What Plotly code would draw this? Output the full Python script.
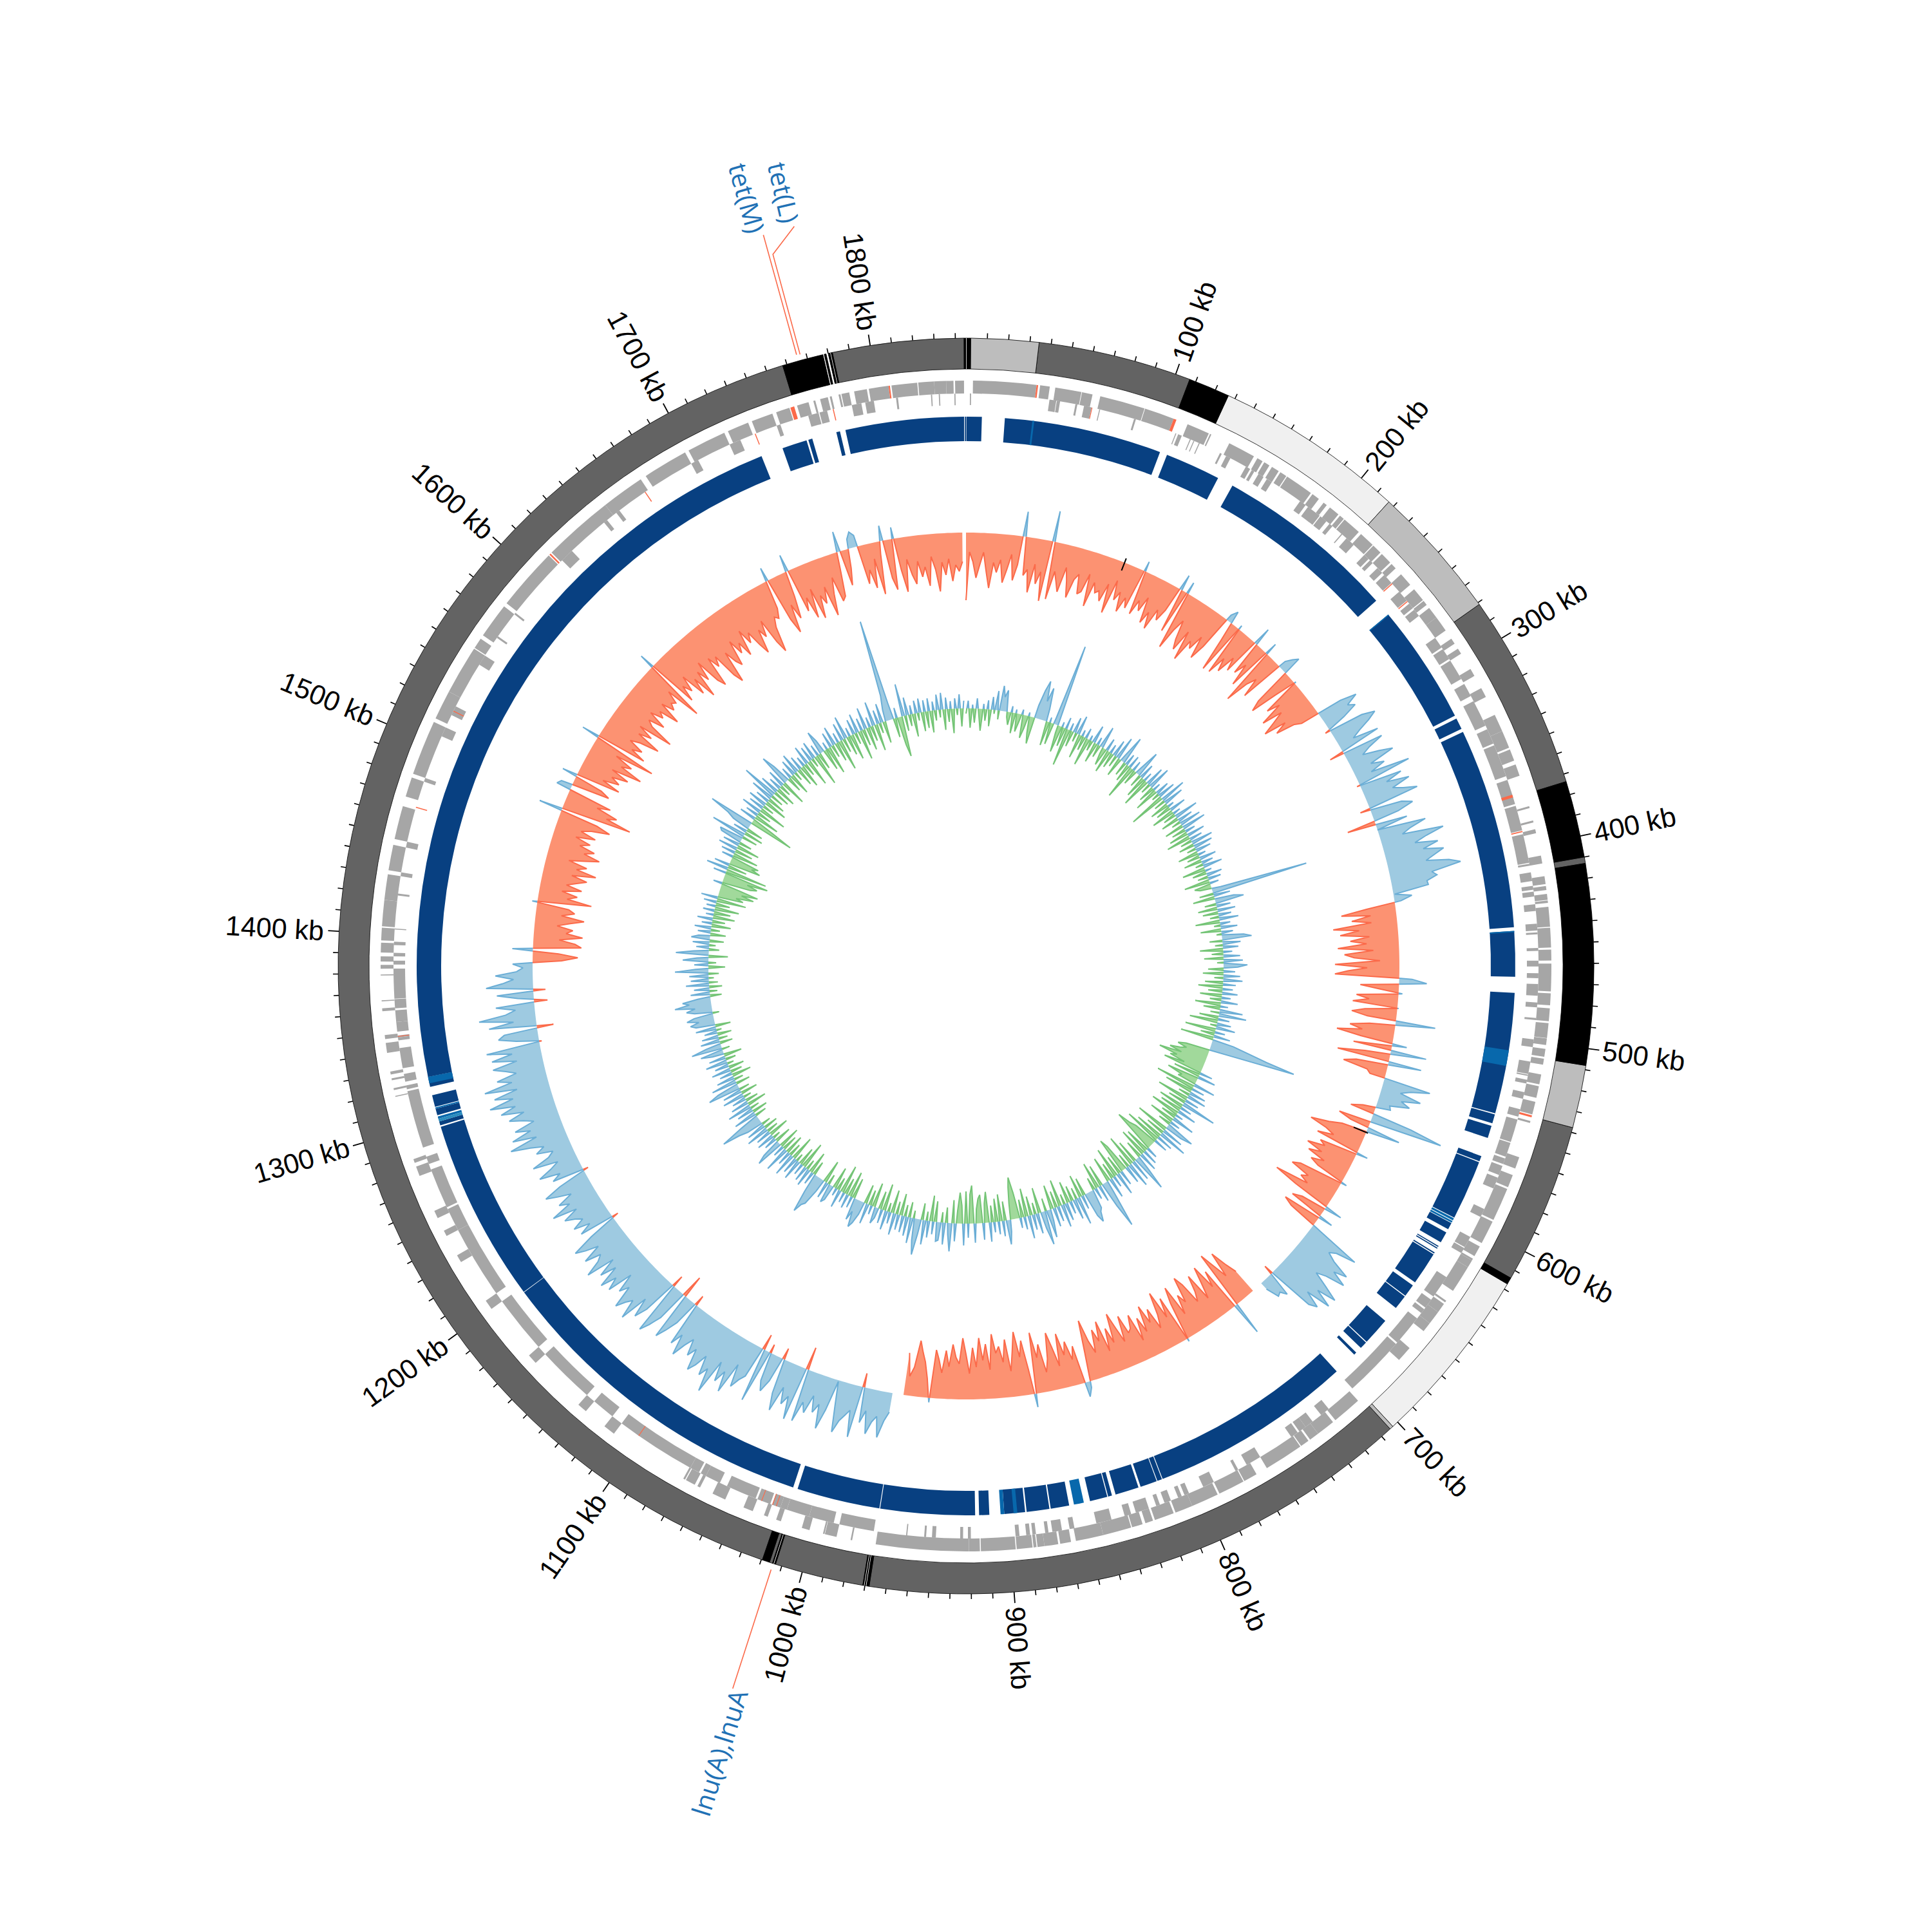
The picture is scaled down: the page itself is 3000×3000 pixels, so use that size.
import math
import plotly.graph_objects as go

GENOME_KB = 1845.0
tick_major_kb = list(range(100, 1801, 100))
tick_minor_kb = [k for k in range(10, 1841, 10) if k % 100]

# outer band: start kb, end kb, level
band_start = [0, 2.2, 34.3, 107, 126.6, 217, 281, 373.7, 410, 413, 508, 537.7, 614, 617.2, 703, 704.7, 968, 971, 1013, 1014.5, 1016, 1019.5, 1758, 1778, 1780, 1782, 1844.1]
band_end = [2.2, 34.3, 107, 126.6, 217, 281, 373.7, 410, 413, 508, 537.7, 614, 617.2, 703, 704.7, 968, 971, 1013, 1014.5, 1016, 1019.5, 1758, 1777.5, 1779, 1782, 1844.1, 1845]
band_level = [3, 2, 1, 3, 0, 2, 1, 3, 1, 3, 2, 1, 3, 0, 2, 1, 3, 1, 3, 1, 3, 1, 3, 3, 3, 1, 3]
band_hairlines = [0.0, 969.3, 970.2, 1013.7, 1777.7, 1779.5, 1781]

# contig track
contig_dark = [(0.2, 8.5), (20.8, 106), (110, 140), (148.7, 247.6), (257.4, 322.3), (324, 330.2), (332, 440.5), (442.5, 467), (475.6, 541), (541.6, 546.5), (548, 554.7), (565, 568), (568.5, 601), (604.3, 608), (610, 616), (618.3, 618.9), (619.4, 620), (622.3, 623), (623.5, 641.5), (643.5, 650.3), (650.8, 658.6), (667.5, 682.5), (683, 687), (690.5, 692), (705, 815), (815.4, 818), (818.4, 827.5), (828.7, 841.5), (843.5, 845.6), (846.1, 855.6), (867, 877), (877.7, 890), (890.8, 902), (910, 915.5), (917.6, 968.6), (969, 1014), (1016.5, 1197), (1197.3, 1296.5), (1297.3, 1299.5), (1303, 1306.5), (1307.6, 1314), (1318.6, 1324), (1324, 1733), (1745, 1758.5), (1759.5, 1761.7), (1775, 1777), (1780, 1844), (1844.4, 1845)]
contig_mid = [(35.6, 36.6), (257.4, 258), (442.5, 443.2), (506.5, 515), (601.4, 602.6), (603, 604), (859, 864.4), (895, 897), (902, 904), (1301, 1302.2), (1306.5, 1307.2), (1320.5, 1324)]
contig_light = [(1299.5, 1301)]

gene_outer = [(3.5,35.5),(37.3,42.2),(45,58.3),(58.6,64),(68,91),(91.3,106.5),(114,125.6),(126.3,127),(137,151),(153,156),(157,160),(161.5,165.5),(166.5,170),(170.5,185),(186,190),(193,195),(197,202.5),(203.5,206),(206.5,216),(217.5,225.5),(226,231),(232,238),(239,242),(246,253),(256,263),(263.5,266),(268,274),(274,282),(287,290),(293,296),(305,309),(316,321),(331,340),(340,349),(350,356),(358,364),(380,381),(387.5,388.5),(392,394),(405.5,409.5),(416,420),(421,423),(425,428),(428.3,429.5),(431.5,441.5),(442,452),(453,458.5),(460,474),(475,481),(482.5,489),(490,497.5),(497.7,501),(503,507),(508,511),(516,521),(522,528),(530,536.5),(540,541),(559,565),(568.5,575),(576,593),(594,606),(608,613.5),(615,616),(616,620),(620,634),(640,641),(642,647),(647,654),(654,659),(670,678),(707,722),(723.5,733),(733,738),(739,743.5),(744,764),(770,777),(777.5,791),(792,806),(806,815),(816,826),(827,831),(832.5,838),(838.5,853),(853,867),(869.5,875),(876,883),(883,886.5),(887,888.5),(889,897),(897.5,915),(915.5,921),(921,968),(980,980.8),(988,994),(994.2,995),(1002,1006),(1017,1019.5),(1024,1026),(1032,1037),(1047,1054),(1061,1062.5),(1064,1069),(1069.5,1070.5),(1112,1118),(1130,1135),(1165,1170),(1200,1205),(1228,1232),(1243,1246),(1253,1257),(1276,1281),(1283,1285),(1317.5,1318),(1321,1322),(1326,1327),(1329,1330.5),(1340,1345),(1347,1349),(1361,1362.5),(1366,1366.5),(1379,1379.5),(1382.4,1384.3),(1386,1388.6),(1390.5,1395.5),(1396.6,1403),(1403.7,1417),(1417,1430),(1432,1445),(1448,1465),(1470,1480),(1482,1510),(1512,1527),(1527,1552),(1552.5,1558),(1560,1578),(1580,1612),(1614,1650),(1650,1672),(1675,1698),(1700,1720),(1722,1733),(1735,1746),(1748,1755),(1759,1765),(1767.5,1768.5),(1771,1775),(1776,1777),(1780.5,1781.5),(1782,1786),(1788.5,1795),(1796,1806),(1807.5,1820.5),(1821,1829),(1829,1835),(1835,1838.7),(1839.5,1844)]
gene_inner = [(2,2.6),(43,46.5),(46.8,48.5),(56.5,57.5),(61,65),(69,69.5),(87.5,88.5),(110,110.5),(111.5,113.5),(118,118.5),(120,120.5),(123,123.5),(135,136),(138.5,141),(150,152.5),(153.5,155),(157.5,160.5),(162.5,165.5),(183,186.5),(188,195.5),(196,200),(202,204),(210,210.6),(213.5,218.5),(226,229),(230,232),(235.5,239),(240.5,246),(252,258),(260,263),(264,268),(282,288),(289,295),(296,307),(310,317),(320,334),(336,344),(345,362),(364,377),(378,391),(393,408),(408.5,409.5),(413,417.5),(420,422),(423,425.5),(429.5,433),(439.5,443),(444,445),(452,453.5),(458.5,461.5),(465,467.5),(470.5,476.5),(480,482.5),(488,489),(499,503),(510.5,517),(517.3,518),(520,522),(526.5,530),(535.5,539.5),(541,553),(553.5,561),(562,565),(566,571),(572.5,578.5),(590,594.5),(606,612),(612.5,615.5),(630,642),(644,649),(650,652.5),(656,672),(673,705),(721,726),(731.5,736),(736,740),(741,745),(764,772),(777,778.5),(791,797),(805,807.5),(809,811),(815,818.5),(821,823),(827,834),(836.5,840),(847,855),(866.5,869),(873,878),(880,881.7),(886.5,888.3),(889.5,891.5),(895,897),(920,921.5),(924,925.5),(938,940),(943,944),(952.7,953.3),(970,988),(991,1004),(1004,1016),(1016,1019.5),(1019.5,1024),(1025,1032),(1033,1049),(1053,1061),(1061,1064),(1065,1070),(1070,1112),(1118,1130),(1135,1165),(1170,1200),(1205,1243),(1243,1255),(1256,1277),(1280,1284),(1289,1319),(1320,1322),(1324,1328),(1331,1341.5),(1345.5,1347),(1347,1348),(1350,1355),(1355,1361),(1362,1366.7),(1367,1382.4),(1384.5,1386.5),(1388.7,1390.5),(1394.5,1396.2),(1402.5,1403),(1420,1421),(1430,1432),(1445,1448),(1480,1482),(1505,1510),(1517,1522),(1546.5,1552),(1563,1564),(1578,1579),(1615,1622),(1644,1646),(1652,1654),(1698,1702),(1720,1726),(1746,1748),(1763,1768.5),(1769,1773),(1786,1791),(1793,1797.5),(1809,1810),(1827,1827.6),(1831,1831.6),(1839,1839.6)]
amr_outer = [(35.5,36.3),(106.5,108),(537,538),(1612.5,1613.3),(1755.5,1757.5),(1806,1806.7)]
amr_inner = [(65,65.4),(246.3,246.8),(258.3,258.8),(372,373.5),(391.3,391.9),(1021.5,1021.9),(1023.5,1023.9),(1029.5,1029.9),(1101,1101.4),(1347.3,1347.7),(1466,1466.5),(1519,1519.5),(1670,1670.5),(1734,1734.5),(1776,1776.5)]

# outer wiggle: one row per 100 kb, offsets from the ring's zero line
skew_rows = [
 [-105,-30,-45,-70,-50,-30,-60,-85,-45,-60,-40,-75,-55,-30,-70,-45,39,-60,-50,-85,-40,-70,-50,-95,48,-90,-45,-60,-75,-35,-55,-80,-50,-40,-70,-65,-35,-85,-45,-60],
 [-55,-70,-40,-85,-30,-60,-45,-75,-50,-65,16,-70,-45,-60,-35,-75,-55,-80,-45,-60,-40,25,-70,19,-93,-60,-40,-70,-85,-50,-96,-60,-70,-45,-80,-55,10,20,-30,-82],
 [7,-80,-50,-70,-40,-60,29,-55,-35,-70,20,-92,-55,-40,-70,12,22,30,-60,-77,-35,3,-60,-40,-77,-45,-65,-85,-50,-70,-40,-30,40,65,45,55,30,-8,55,75],
 [60,40,25,65,-23,65,40,25,50,71,30,50,25,86,-5,67,40,75,45,60,81,-16,50,66,40,-45,50,0,76,50,35,99,70,50,85,60,91,75,60,95],
 [112,65,72,55,56,2,28,10,-45,-85,-40,-70,-40,-100,-60,-90,-45,-75,-50,-95,-40,-85,-70,-30,-100,-50,-80,-100,20,43,-60,-30,6,-65,-45,-70,2,-50,-70,-45],
 [62,-40,-70,-50,-89,-50,23,-60,56,-40,-82,52,-50,-69,-30,-24,74,45,30,64,35,50,20,23,-20,-38,63,115,-51,-30,53,-40,-60,-88,-60,-45,-70,18,-60,-50],
 [-77,-50,-70,-40,-60,-45,9,-70,-82,-50,-60,-45,-98,-60,28,-40,-55,23,-61,-46,15,86,55,45,60,90,70,95,65,50,75,100,70,99,60,87,75,-15,40,30],
 [33,12,None,None,-40,-60,-85,-45,-70,-93,53,-70,-45,-85,-60,-35,-80,-55,-40,-75,-90,-50,-65,-35,-85,-60,5,-75,-45,-90,-55,-35,-70,-50,-80,-40,-65,-30,-75,-55],
 [-50,-80,-40,-65,-90,-45,-70,-35,-85,-55,-75,-40,-60,-95,-45,10,23,-60,-40,-70,-50,-85,-35,-65,-90,-50,-30,-75,-55,-95,21,-40,-85,-60,-100,-70,-40,-90,-55,-80],
 [-70,-100,-45,-85,-60,-95,-50,-80,-40,-70,-95,-55,-65,-85,-50,-75,-40,-60,-75,7,-30,-55,-70,-87,-45,-30,-66,None,None,30,45,72,40,50,70,35,55,-22,81,40],
 [50,60,80,40,2,50,82,45,60,35,65,50,83,-36,85,50,65,40,81,55,-18,40,60,45,-14,85,-25,50,60,75,40,91,60,80,50,106,70,85,55,75],
 [88,55,70,45,60,82,50,70,-17,40,60,76,-36,50,70,85,-19,55,75,45,90,60,70,85,50,65,35,75,55,80,45,70,40,85,60,50,75,45,65,80],
 [45,-10,55,35,60,40,50,65,40,78,45,60,35,55,73,45,-8,50,35,67,45,30,69,40,30,55,40,60,90,45,82,50,73,40,55,76,50,85,60,99],
 [60,88,50,100,55,77,45,60,79,40,78,45,84,-4,35,62,52,-26,74,35,88,46,30,60,-21,25,57,-19,73,47,30,58,25,15,31,-45,-70,-40,32,-75],
 [-65,-40,-76,-50,-60,-35,-55,-76,-40,-60,-50,8,-84,-45,-60,-35,-65,-40,-55,-70,-45,-82,-50,-65,-35,-60,-81,-55,-70,-45,-60,-35,-65,-40,-55,-83,-60,37,-111,-70],
 [-85,-50,-70,23,18,-60,-45,24,-70,-40,-65,-50,-75,-45,-92,-55,-70,-40,-101,28,-80,-55,-70,-45,-60,-90,-50,-70,-45,-99,-60,-50,-75,-45,-65,-55,-86,-50,-70,-60],
 [-65,-45,-100,24,-80,-55,-70,-45,-85,-60,-98,-55,-75,-45,-85,-98,-50,-70,-55,-95,-110,-60,-80,-90,-50,-75,-60,-85,-45,-70,-55,-80,-97,-60,-75,-50,-90,-109,-70,-55],
 [-60,-45,22,-70,-94,-50,-75,-40,27,-70,-50,-85,-40,-90,-55,-70,-45,-93,-60,-35,-75,-69,-25,32,-56,-30,15,25,18,-61,-40,-70,-25,-82,-20,24,-60,-79,18,-50],
 [-85,-35,-60,-75,-40,-65,-50,-80,-35,-55,-90,-45,-65,-40,-75,-50,-60,-45],
]

# inner wiggle: one row per 100 kb, offsets from the ring's zero line
gc_rows = [
 [-8,12,-30,6,-22,16,-10,-34,8,-18,14,-26,20,-6,30,-14,39,22,33,-8,-20,10,-32,6,-28,-12,8,-36,-20,6,-26,-42,20,45,61,30,52,20,-38,8],
 [-34,10,129,-12,-42,8,-30,18,-59,12,-25,24,-14,30,-38,10,-22,16,-44,8,-16,28,-32,12,-20,34,-10,-28,20,-36,14,-24,26,-18,36,-30,10,44,-22,18],
 [-28,20,-54,16,-24,10,42,-20,24,-34,14,-46,30,-16,36,-26,12,-38,22,-12,28,-57,41,-18,32,-30,10,-24,26,-36,12,-20,38,-28,24,-14,34,-30,38,-22],
 [16,-30,28,-38,20,-18,34,-24,30,-14,24,-32,12,-20,26,-28,18,-12,30,-36,10,-22,24,-16,20,-40,14,-26,-18,14,152,-22,26,-34,30,45,-18,22,-30,28],
 [-24,20,-14,30,-38,16,-10,26,-32,18,-8,34,46,-20,28,-12,24,-36,14,-18,26,-30,30,-10,37,22,-24,18,-32,26,-14,30,-28,20,-38,16,-22,24,-34,14],
 [-18,26,-40,12,-26,36,-14,43,-30,18,-44,22,-10,30,-48,16,-22,26,-52,34,60,90,136,40,-38,-50,-35,-45,-60,-40,-75,-45,-55,-30,-62,20,-42,28,-50,-25],
 [-30,34,-62,20,-44,26,-18,30,-50,22,-28,55,-40,18,-34,30,-46,12,-24,36,-40,16,-20,46,28,-52,34,-30,46,-44,26,-58,22,-38,-48,-69,-30,18,-40,24],
 [-45,30,-28,22,58,-36,34,-50,40,-22,28,-44,-57,24,-30,36,-48,18,-26,32,-40,20,77,40,-34,26,-42,18,-20,30,35,50,38,-28,22,-36,44,-18,32,-24],
 [20,-34,28,-16,36,-42,24,-26,30,-38,18,44,-20,53,26,-40,32,-18,24,-30,36,-44,20,-28,16,-40,-65,-50,-25,18,38,-30,24,-42,20,-36,16,-26,30,-48],
 [-30,26,-44,-38,-22,30,-59,-45,22,-50,34,-28,-48,-20,28,-36,44,18,-24,34,-16,28,30,-32,20,-40,26,-14,38,-26,22,56,34,-12,40,-24,30,-18,26,-34],
 [24,-20,34,-36,18,-14,30,-42,22,-28,16,26,-38,14,-24,32,-30,20,36,44,20,35,-32,18,-40,22,-26,16,-44,28,-20,12,-34,24,30,-16,26,-36,20,45],
 [50,64,30,-22,20,-34,28,-16,24,-42,18,-28,32,-12,26,-38,36,-20,22,-30,40,-24,18,-34,44,30,-26,20,-12,28,-32,24,-18,36,-22,30,-14,26,40,67],
 [30,-18,36,-24,26,-14,38,-30,28,-20,22,-12,34,-26,30,-16,51,34,-22,40,-14,28,-30,20,-18,30,-24,22,-10,34,-16,26,-28,18,36,-12,48,24,-20,30],
 [-14,26,-22,20,-8,32,-24,30,38,24,42,30,-10,28,40,26,57,34,44,20,-18,30,-12,24,-20,36,-14,28,-8,30,-16,52,20,-26,22,-12,40,18,-30,51],
 [24,-16,20,-10,26,-22,29,18,-24,20,-14,26,-30,16,-20,24,-34,12,-26,18,-38,14,-22,20,-46,26,-40,-28,-55,-35,-60,-30,14,-45,-55,-38,-70,20,-65,34],
 [-30,24,-50,-35,-45,18,-40,22,-28,30,-36,26,-20,34,38,-24,55,-30,22,-26,28,40,72,-71,-34,26,-40,20,-22,32,-44,24,-18,30,-36,22,-28,36,-20,57],
 [-26,30,-32,20,-18,28,-40,50,30,-24,18,-34,26,-14,32,-28,22,-36,16,-20,30,-42,24,-14,28,-50,18,-26,37,20,-34,12,-44,24,-20,30,-30,16,-48,28],
 [-22,36,-30,14,-40,24,-18,30,-46,20,-26,34,-36,16,-24,38,-42,22,-16,30,-34,18,40,159,26,-30,16,-44,-63,51,-24,28,-18,14,-36,20,-12,22,-30,18],
 [-26,20,-34,14,-16,24,-12,26,-32,18,-20,12,-38,16,-10,22,-28,12],
]

black_dash_kb = [110, 577]
black_dash_low = [-13, -21]
black_dash_high = [7, 3]

leader_names = ["tet(L)", "tet(M)", "lnu(A),lnuA"]

# ---------- geometry and styling ----------
SIZE = 3000
CENTER = 1500.0
R_BAND = (927, 975)
R_GENE_IN = (871, 889)
R_GENE_OUT = (889, 909)
R_CONTIG = (815, 853)
R_SKEW = 673
R_GC = 400
BAND_COLORS = {0: "#f0f0f0", 1: "#636363", 2: "#bdbdbd", 3: "#000000"}
LABEL_FONT = "Liberation Sans"


def th(kb):
    return kb * 360.0 / GENOME_KB


def paper(kb, r):
    a = math.radians(th(kb))
    return (CENTER + r * math.sin(a)) / SIZE, 1 - (CENTER - r * math.cos(a)) / SIZE


def bars(spans, rng, color, line=None):
    mid = [th((a + b) / 2) for a, b in spans]
    wid = [th(b - a) for a, b in spans]
    return go.Barpolar(
        theta=mid, width=wid, base=[rng[0]] * len(spans), r=[rng[1] - rng[0]] * len(spans),
        marker=dict(color=color, line=dict(color=line or color, width=0.8 if line else 0)),
        hoverinfo="skip", showlegend=False,
    )


def series(rows):
    xs, ys = [], []
    for k, row in enumerate(rows):
        span = 100.0 if k < len(rows) - 1 else GENOME_KB - 100.0 * k
        for i, v in enumerate(row):
            xs.append(100.0 * k + i * span / len(row))
            ys.append(v)
    return xs, ys


def split_runs(xs, ys, sign):
    runs, cur = [], []
    n = len(xs)
    for i in range(n):
        y = ys[i]
        x = xs[i]
        ok = y is not None and (y * sign > 0 or y == 0)
        if ok:
            if not cur and i > 0 and ys[i - 1] is not None and ys[i - 1] * sign < 0:
                p, q = ys[i - 1], y
                cur.append((xs[i - 1] + (x - xs[i - 1]) * (-p) / (q - p), 0))
            cur.append((x, y))
        else:
            if cur:
                if y is not None and y * sign < 0:
                    p, q = cur[-1][1], y
                    cur.append((cur[-1][0] + (x - cur[-1][0]) * p / (p - q), 0))
                runs.append(cur)
                cur = []
    if cur:
        runs.append(cur)
    return runs


def wiggle(rows, base, pos_fill, pos_line, neg_fill, neg_line):
    xs, ys = series(rows)
    out = []
    for sign, fill, line in ((1, pos_fill, pos_line), (-1, neg_fill, neg_line)):
        runs = split_runs(xs, ys, sign)
        ft, fr, lt, lr = [], [], [], []
        for run in runs:
            t = [th(p[0]) for p in run]
            r = [base + p[1] for p in run]
            ft += t + t[::-1] + [None]
            fr += r + [base] * len(t) + [None]
            lt += t + [None]
            lr += r + [None]
        out.append(go.Scatterpolar(theta=ft, r=fr, mode="lines", fill="toself", fillcolor=fill,
                                   line=dict(width=0, color=fill), hoverinfo="skip", showlegend=False))
        out.append(go.Scatterpolar(theta=lt, r=lr, mode="lines", line=dict(width=2, color=line),
                                   hoverinfo="skip", showlegend=False))
    return out


def segs(kbs, r0, r1):
    t, r = [], []
    for k in kbs:
        t += [th(k), th(k), None]
        r += [r0, r1, None]
    return t, r


fig = go.Figure()

# outer band
for lvl in BAND_COLORS:
    sp = [(a, b) for a, b, l in zip(band_start, band_end, band_level) if l == lvl]
    fig.add_trace(bars(sp, R_BAND, BAND_COLORS[lvl], line="#000000"))
fig.add_trace(bars([(k, k + 0.25) for k in band_hairlines], R_BAND, "#ffffff"))

# genes
fig.add_trace(bars(gene_outer, R_GENE_OUT, "#a6a6a6"))
fig.add_trace(bars(gene_inner, R_GENE_IN, "#a6a6a6"))
fig.add_trace(bars(amr_outer, R_GENE_OUT, "#fb6a4a"))
fig.add_trace(bars(amr_inner, R_GENE_IN, "#fb6a4a"))

# contigs
fig.add_trace(bars(contig_dark, R_CONTIG, "#084081"))
fig.add_trace(bars(contig_mid, R_CONTIG, "#0868ac"))
fig.add_trace(bars(contig_light, R_CONTIG, "#2b8cbe"))

# wiggles
for tr in wiggle(skew_rows, R_SKEW, "#9ecae1", "#6baed6", "#fc9272", "#fb6a4a"):
    fig.add_trace(tr)
for tr in wiggle(gc_rows, R_GC, "#9ecae1", "#6baed6", "#a1d99b", "#74c476"):
    fig.add_trace(tr)

dt, dr = [], []
for k, lo, hi in zip(black_dash_kb, black_dash_low, black_dash_high):
    dt += [th(k), th(k), None]
    dr += [R_SKEW + lo, R_SKEW + hi, None]
fig.add_trace(go.Scatterpolar(theta=dt, r=dr, mode="lines", line=dict(width=2, color="#000000"),
                              hoverinfo="skip", showlegend=False))

# ticks
t, r = segs(tick_minor_kb, 975, 983)
fig.add_trace(go.Scatterpolar(theta=t, r=r, mode="lines", line=dict(width=1.6, color="#000000"),
                              hoverinfo="skip", showlegend=False))
t, r = segs(tick_major_kb, 975, 992)
fig.add_trace(go.Scatterpolar(theta=t, r=r, mode="lines", line=dict(width=1.8, color="#000000"),
                              hoverinfo="skip", showlegend=False))

# leader lines: (kb of anchor, radial break, kb of elbow end, radius of end)
leaders = [
    ([1767.2, 1767.2, 1778.0], [984, 1145, 1179]),
    ([1765.6, 1765.6], [985, 1178]),
    ([1014.2, 1014.2], [985, 1179]),
]
for kbs, rs in leaders:
    fig.add_trace(go.Scatterpolar(theta=[th(k) for k in kbs], r=rs, mode="lines",
                                  line=dict(width=1.6, color="#fb6a4a"), hoverinfo="skip", showlegend=False))

annotations = []
for k in tick_major_kb:
    a = th(k)
    ang = a - 90 if a < 180 else a - 270
    rc = 1062 if k < 1000 else 1075
    x, y = paper(k, rc)
    annotations.append(dict(text=f"{k} kb", x=x, y=y, xref="paper", yref="paper", showarrow=False,
                            xanchor="center", yanchor="middle", textangle=ang,
                            font=dict(family=LABEL_FONT, size=43, color="#000000")))

for name, kb, rc in zip(leader_names, [1777.0, 1763.5, 1011.8], [1234, 1240, 1280]):
    a = th(kb)
    ang = a - 90 if a < 180 else a - 270
    x, y = paper(kb, rc)
    annotations.append(dict(text=name, x=x, y=y, xref="paper", yref="paper", showarrow=False,
                            xanchor="center", yanchor="middle", textangle=ang,
                            font=dict(family="Open Sans", size=40, color="#2171b5")))

fig.update_layout(
    width=SIZE, height=SIZE, autosize=False,
    margin=dict(l=0, r=0, t=0, b=0), paper_bgcolor="#ffffff", plot_bgcolor="#ffffff",
    showlegend=False, annotations=annotations,
    polar=dict(
        domain=dict(x=[0, 1], y=[0, 1]), bgcolor="#ffffff", barmode="overlay",
        radialaxis=dict(visible=False, range=[0, 1500]),
        angularaxis=dict(visible=False, direction="clockwise", rotation=90),
    ),
)
fig.write_html("out.html", config={"displayModeBar": False},
               post_script="document.body.style.margin='0';")
